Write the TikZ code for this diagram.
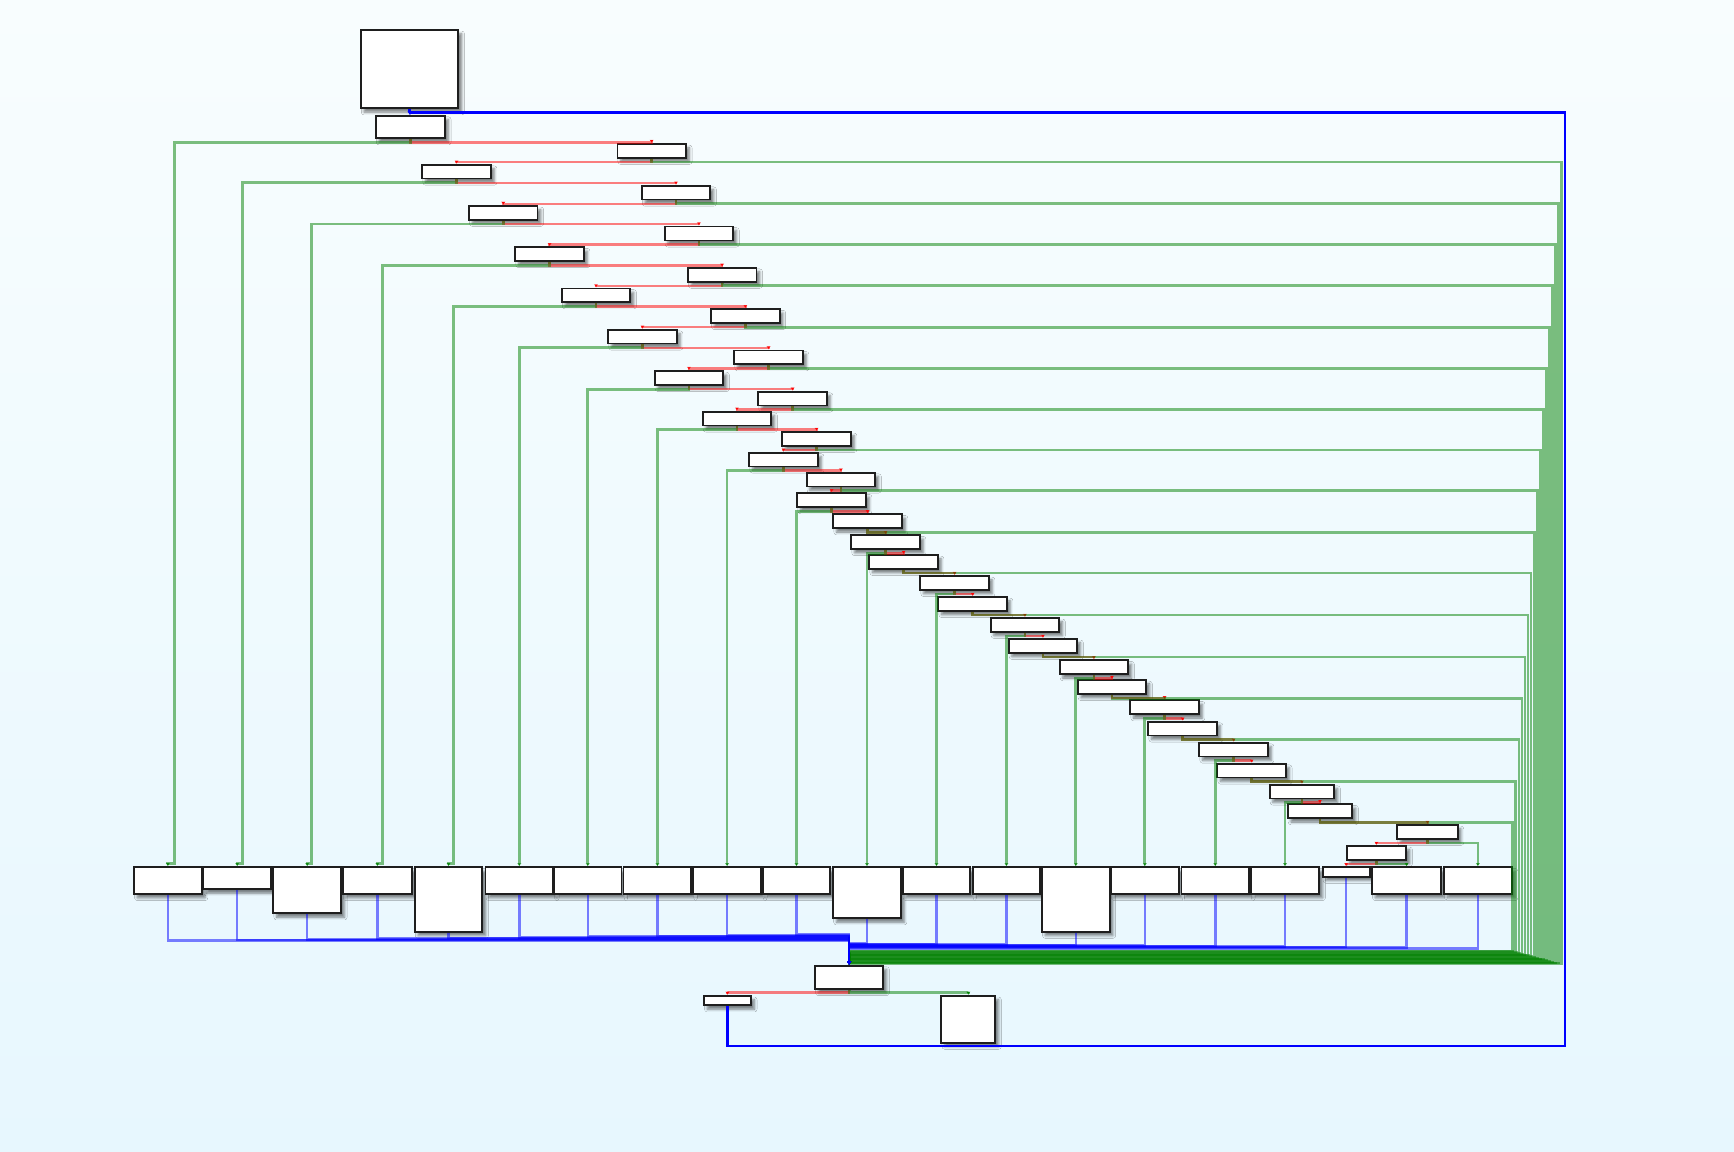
\documentclass[tikz,border=0pt]{standalone}
\usepackage{tikz}
\usepackage{xcolor}
\usetikzlibrary{arrows.meta, shadows.blur}
\definecolor{bgtop}{RGB}{248,253,254}
\definecolor{bgbottom}{RGB}{231,247,254}
\definecolor{edgegreen}{RGB}{0,128,0}
\definecolor{edgered}{RGB}{255,0,0}
\definecolor{edgeblue}{RGB}{0,0,255}
\definecolor{blockline}{RGB}{30,30,30}

\begin{document}
\begin{tikzpicture}[
    x=0.1mm, y=-0.1mm,
    blk/.style={draw=blockline, fill=white, line width=0.16mm, inner sep=0pt,
        minimum width=6.2mm, minimum height=1.25mm,
        blur shadow={shadow xshift=0.3mm, shadow yshift=-0.35mm, shadow blur radius=0.25mm, shadow opacity=50}},
    casebox/.style={blk, minimum width=6.12mm, minimum height=2.41mm},
    truebr/.style={draw=edgegreen, draw opacity=0.5, line width=0.25mm, -{Latex[length=0.3mm,width=0.4mm]}},
    falsebr/.style={draw=edgered, draw opacity=0.5, line width=0.23mm, -{Latex[length=0.3mm,width=0.4mm]}},
    jmp/.style={draw=edgeblue, draw opacity=0.5, line width=0.23mm, -{Latex[length=0.3mm,width=0.4mm]}},
    backjmp/.style={draw=edgeblue, line width=0.26mm, -{Latex[length=0.3mm,width=0.4mm]}}
]
% background
\fill[top color=bgtop, bottom color=bgbottom] (0,0) rectangle (1568,1041);
\useasboundingbox (0,0) rectangle (1568,1041);

% entry block and dispatcher
\node[blk, minimum width=8.83mm, minimum height=7.08mm] (T) at (370.35,62.5) {};
\node[blk, minimum width=6.26mm, minimum height=2.05mm] (c1) at (371.1,114.85) {};

% compare chain (zig-zag)
\node[blk] (c2) at (589.3,136.45) {};
\node[blk] (c3) at (412.9,155.25) {};
\node[blk] (c4) at (611.3,174.25) {};
\node[blk] (c5) at (455.1,192.45) {};
\node[blk] (c6) at (632.0,211.15) {};
\node[blk] (c7) at (497.0,229.85) {};
\node[blk] (c8) at (653.0,248.45) {};
\node[blk] (c9) at (539.0,267.15) {};
\node[blk] (c10) at (674.0,285.85) {};
\node[blk] (c11) at (581.0,304.45) {};
\node[blk] (c12) at (695.0,323.15) {};
\node[blk] (c13) at (623.0,341.85) {};
\node[blk] (c14) at (716.7,360.45) {};
\node[blk] (c15) at (666.4,378.55) {};
\node[blk] (c16) at (738.4,396.85) {};
\node[blk] (c17) at (708.6,415.55) {};
\node[blk] (c18) at (760.4,433.65) {};
\node[blk] (c19) at (752.0,452.35) {};

% compare chain (diagonal)
\node[blk] (c20) at (784.5,471.35) {};
\node[blk] (c21) at (800.8,490.25) {};
\node[blk] (c22) at (817.1,508.15) {};
\node[blk] (c23) at (863.2,527.15) {};
\node[blk] (c24) at (879.5,546.15) {};
\node[blk] (c25) at (926.8,565.05) {};
\node[blk] (c26) at (943.1,584.05) {};
\node[blk] (c27) at (989.2,603.35) {};
\node[blk] (c28) at (1005.5,621.25) {};
\node[blk] (c29) at (1053.1,639.55) {};
\node[blk] (c30) at (1069.4,658.85) {};
\node[blk] (c31) at (1115.5,677.85) {};
\node[blk] (c32) at (1131.8,696.85) {};
\node[blk, minimum width=5.84mm] (c33) at (1177.3,715.85) {};
\node[blk, minimum width=5.84mm] (c34) at (1193.6,733.55) {};
\node[blk, minimum width=5.46mm] (c35) at (1290.8,752.25) {};
\node[blk, minimum width=5.4mm] (c36) at (1244.7,771.25) {};

% case blocks (bottom row)
\node[casebox] (b1) at (151.8,796.35) {};
\node[casebox, minimum height=1.99mm] (b2) at (214.5,794.25) {};
\node[casebox, minimum height=4.16mm] (b3) at (277.8,805.1) {};
\node[casebox, minimum width=6.27mm] (b4) at (341.25,796.35) {};
\node[casebox, minimum height=5.82mm] (b5) at (405.6,813.4) {};
\node[casebox] (b6) at (469.6,796.35) {};
\node[casebox] (b7) at (531.5,796.35) {};
\node[casebox] (b8) at (594.5,796.35) {};
\node[casebox] (b9) at (657.5,796.35) {};
\node[casebox] (b10) at (720.25,796.35) {};
\node[casebox, minimum height=4.61mm] (b11) at (784.0,807.35) {};
\node[casebox] (b12) at (846.85,796.35) {};
\node[casebox] (b13) at (910.1,796.35) {};
\node[casebox, minimum height=5.82mm] (b14) at (972.8,813.4) {};
\node[casebox] (b15) at (1035.2,796.35) {};
\node[casebox] (b16) at (1098.95,796.35) {};
\node[casebox, minimum width=6.2mm] (b17) at (1162.0,796.35) {};
\node[casebox, minimum width=4.26mm, minimum height=0.84mm] (b18) at (1217.3,788.5) {};
\node[casebox, minimum width=6.24mm] (b19) at (1271.9,796.35) {};
\node[casebox] (b20) at (1336.4,796.35) {};

% merge and exit
\node[blk, minimum width=6.17mm, minimum height=2.11mm] (M) at (767.85,883.75) {};
\node[blk, minimum width=4.25mm, minimum height=0.85mm] (S) at (657.85,904.85) {};
\node[blk, minimum width=4.88mm, minimum height=4.22mm] (E) at (875.6,921.7) {};

% fall-through edges along the chain
\draw[falsebr] (c1.south) -- ++(0,3) -| (c2.north);
\draw[falsebr] (c2.south) -- ++(0,3) -| (c3.north);
\draw[falsebr] (c3.south) -- ++(0,3) -| (c4.north);
\draw[falsebr] (c4.south) -- ++(0,3) -| (c5.north);
\draw[falsebr] (c5.south) -- ++(0,3) -| (c6.north);
\draw[falsebr] (c6.south) -- ++(0,3) -| (c7.north);
\draw[falsebr] (c7.south) -- ++(0,3) -| (c8.north);
\draw[falsebr] (c8.south) -- ++(0,3) -| (c9.north);
\draw[falsebr] (c9.south) -- ++(0,3) -| (c10.north);
\draw[falsebr] (c10.south) -- ++(0,3) -| (c11.north);
\draw[falsebr] (c11.south) -- ++(0,3) -| (c12.north);
\draw[falsebr] (c12.south) -- ++(0,3) -| (c13.north);
\draw[falsebr] (c13.south) -- ++(0,3) -| (c14.north);
\draw[falsebr] (c14.south) -- ++(0,3) -| (c15.north);
\draw[falsebr] (c15.south) -- ++(0,3) -| (c16.north);
\draw[falsebr] (c16.south) -- ++(0,3) -| (c17.north);
\draw[falsebr] (c17.south) -- ++(0,3) -| (c18.north);
\draw[falsebr] (c18.south) -- ++(0,3) -| (c19.north);
\draw[falsebr] (c19.south) -- ++(0,3) -| (c20.north);
\draw[falsebr] (c20.south) -- ++(0,3) -| (c21.north);
\draw[falsebr] (c21.south) -- ++(0,3) -| (c22.north);
\draw[falsebr] (c22.south) -- ++(0,3) -| (c23.north);
\draw[falsebr] (c23.south) -- ++(0,3) -| (c24.north);
\draw[falsebr] (c24.south) -- ++(0,3) -| (c25.north);
\draw[falsebr] (c25.south) -- ++(0,3) -| (c26.north);
\draw[falsebr] (c26.south) -- ++(0,3) -| (c27.north);
\draw[falsebr] (c27.south) -- ++(0,3) -| (c28.north);
\draw[falsebr] (c28.south) -- ++(0,3) -| (c29.north);
\draw[falsebr] (c29.south) -- ++(0,3) -| (c30.north);
\draw[falsebr] (c30.south) -- ++(0,3) -| (c31.north);
\draw[falsebr] (c31.south) -- ++(0,3) -| (c32.north);
\draw[falsebr] (c32.south) -- ++(0,3) -| (c33.north);
\draw[falsebr] (c33.south) -- ++(0,3) -| (c34.north);
\draw[falsebr] (c34.south) -- ++(0,3) -| (c35.north);
\draw[falsebr] (c35.south) -- ++(0,3) -| (c36.north);
\draw[falsebr] (c36.south) -- ++(0,3) -| (b18.north);

% taken branches down to the cases
\draw[truebr] (c1.south) -- ++(0,3) -| (157.6,780.6) -| (b1.north);
\draw[truebr] (c3.south) -- ++(0,3) -| (219,780.6) -| (b2.north);
\draw[truebr] (c5.south) -- ++(0,3) -| (282,780.6) -| (b3.north);
\draw[truebr] (c7.south) -- ++(0,3) -| (346,780.6) -| (b4.north);
\draw[truebr] (c9.south) -- ++(0,3) -| (410,780.6) -| (b5.north);
\draw[truebr] (c11.south) -- ++(0,3) -| (b6.north);
\draw[truebr] (c13.south) -- ++(0,3) -| (b7.north);
\draw[truebr] (c15.south) -- ++(0,3) -| (b8.north);
\draw[truebr] (c17.south) -- ++(0,3) -| (b9.north);
\draw[truebr] (c19.south) -- ++(0,3) -| (b10.north);
\draw[truebr] (c21.south) -- ++(0,3) -| (b11.north);
\draw[truebr] (c23.south) -- ++(0,3) -| (b12.north);
\draw[truebr] (c25.south) -- ++(0,3) -| (b13.north);
\draw[truebr] (c27.south) -- ++(0,3) -| (b14.north);
\draw[truebr] (c29.south) -- ++(0,3) -| (b15.north);
\draw[truebr] (c31.south) -- ++(0,3) -| (b16.north);
\draw[truebr] (c33.south) -- ++(0,3) -| (b17.north);
\draw[truebr] (c36.south) -- ++(0,3) -| (b19.north);
\draw[truebr] (c35.south) -- ++(0,3) -| (b20.north);

% taken branches to the default block (right bus)
\draw[truebr] (c2.south) -- ++(0,3) -| (1412,871.5) -| (M.north);
\draw[truebr] (c4.south) -- ++(0,3) -| (1409.25,870.78) -| (M.north);
\draw[truebr] (c6.south) -- ++(0,3) -| (1406.5,870.06) -| (M.north);
\draw[truebr] (c8.south) -- ++(0,3) -| (1403.75,869.34) -| (M.north);
\draw[truebr] (c10.south) -- ++(0,3) -| (1401,868.62) -| (M.north);
\draw[truebr] (c12.south) -- ++(0,3) -| (1398.25,867.9) -| (M.north);
\draw[truebr] (c14.south) -- ++(0,3) -| (1395.5,867.18) -| (M.north);
\draw[truebr] (c16.south) -- ++(0,3) -| (1392.75,866.46) -| (M.north);
\draw[truebr] (c18.south) -- ++(0,3) -| (1390,865.74) -| (M.north);
\draw[truebr] (c20.south) -- ++(0,3) -| (1387.25,865.02) -| (M.north);
\draw[truebr] (c22.south) -- ++(0,3) -| (1384.5,864.3) -| (M.north);
\draw[truebr] (c24.south) -- ++(0,3) -| (1381.75,863.58) -| (M.north);
\draw[truebr] (c26.south) -- ++(0,3) -| (1379,862.86) -| (M.north);
\draw[truebr] (c28.south) -- ++(0,3) -| (1376.25,862.14) -| (M.north);
\draw[truebr] (c30.south) -- ++(0,3) -| (1373.5,861.42) -| (M.north);
\draw[truebr] (c32.south) -- ++(0,3) -| (1370.75,860.7) -| (M.north);
\draw[truebr] (c34.south) -- ++(0,3) -| (1368,859.98) -| (M.north);

% jumps from the cases to the merge block
\draw[jmp] (b1.south) -- (b1.south |- 0,850.6) -| (M.north);
\draw[jmp] (b2.south) -- (b2.south |- 0,850.0) -| (M.north);
\draw[jmp] (b3.south) -- (b3.south |- 0,849.4) -| (M.north);
\draw[jmp] (b4.south) -- (b4.south |- 0,848.8) -| (M.north);
\draw[jmp] (b5.south) -- (b5.south |- 0,848.2) -| (M.north);
\draw[jmp] (b6.south) -- (b6.south |- 0,847.6) -| (M.north);
\draw[jmp] (b7.south) -- (b7.south |- 0,847.0) -| (M.north);
\draw[jmp] (b8.south) -- (b8.south |- 0,846.4) -| (M.north);
\draw[jmp] (b9.south) -- (b9.south |- 0,845.8) -| (M.north);
\draw[jmp] (b10.south) -- (b10.south |- 0,845.2) -| (M.north);
\draw[jmp] (b11.south) -- (b11.south |- 0,853.0) -| (M.north);
\draw[jmp] (b12.south) -- (b12.south |- 0,853.5) -| (M.north);
\draw[jmp] (b13.south) -- (b13.south |- 0,854.0) -| (M.north);
\draw[jmp] (b14.south) -- (b14.south |- 0,854.5) -| (M.north);
\draw[jmp] (b15.south) -- (b15.south |- 0,855.0) -| (M.north);
\draw[jmp] (b16.south) -- (b16.south |- 0,855.5) -| (M.north);
\draw[jmp] (b17.south) -- (b17.south |- 0,856.0) -| (M.north);
\draw[jmp] (b18.south) -- (b18.south |- 0,856.5) -| (M.north);
\draw[jmp] (b19.south) -- (b19.south |- 0,857.0) -| (M.north);
\draw[jmp] (b20.south) -- (b20.south |- 0,857.5) -| (M.north);

% tail and loop back
\draw[falsebr] (M.south) -- ++(0,2.5) -| (S.north);
\draw[truebr] (M.south) -- ++(0,2.5) -| (E.north);
\draw[backjmp] (T.south) -- (T.south |- c1.north);
\draw[backjmp] (S.south) |- (1415.2,945.9) -- (1415.2,101.6) -| (c1.north);
\end{tikzpicture}
\end{document}
